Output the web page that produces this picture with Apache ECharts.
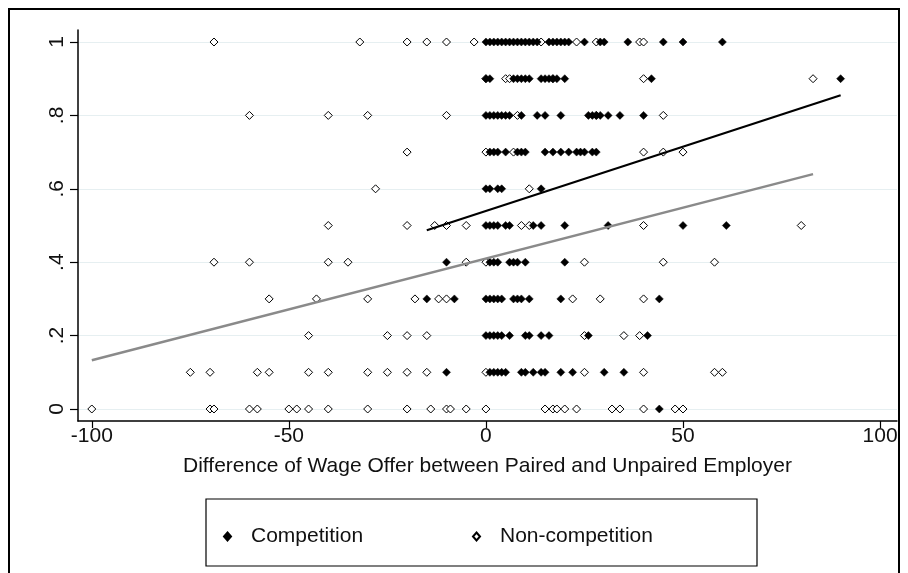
<!DOCTYPE html>
<html>
<head>
<meta charset="utf-8">
<script src="https://cdn.jsdelivr.net/npm/echarts@6/dist/echarts.min.js"></script>
<style>
  html, body { margin: 0; padding: 0; background: #ffffff; }
  #chart { width: 908px; height: 573px; }
</style>
</head>
<body>
<div id="chart"></div>
<script>
// Share of workers choosing the paired employer, by wage-offer difference
const yLevels = [0, 0.1, 0.2, 0.3, 0.4, 0.5, 0.6, 0.7, 0.8, 0.9, 1];

// wage-offer differences of the competition treatment, one list per outcome level
const competitionX = [
  [44],
  [-10, 1, 2, 3, 4, 5, 9, 10, 12, 14, 15, 19, 22, 30, 35],
  [0, 1, 2, 3, 4, 6, 10, 11, 14, 16, 26, 41],
  [-15, -8, 0, 1, 2, 3, 4, 7, 8, 9, 11, 19, 44],
  [-10, 1, 2, 3, 6, 7, 8, 10, 20],
  [0, 1, 2, 3, 5, 6, 12, 14, 20, 31, 50, 61],
  [0, 1, 3, 4, 14],
  [1, 2, 3, 5, 8, 9, 10, 15, 17, 19, 21, 23, 24, 25, 27, 28],
  [0, 1, 2, 3, 4, 5, 6, 9, 13, 15, 19, 26, 27, 28, 29, 31, 34, 40],
  [0, 1, 7, 8, 9, 10, 11, 14, 15, 16, 17, 18, 20, 42, 90],
  [0, 1, 2, 3, 4, 5, 6, 7, 8, 9, 10, 11, 12, 13, 16, 17, 18, 19, 20, 21, 25, 29, 30, 36, 45, 50, 60]
];

// wage-offer differences of the non-competition treatment, one list per outcome level
const nonCompetitionX = [
  [-100, -70, -69, -60, -58, -50, -48, -45, -40, -30, -20, -14, -10, -9, -5, 0, 15, 17, 18, 20, 23, 32, 34, 40, 48, 50],
  [-75, -70, -58, -55, -45, -40, -30, -25, -20, -15, 0, 25, 40, 58, 60],
  [-45, -25, -20, -15, 25, 35, 39],
  [-55, -43, -30, -18, -12, -10, 22, 29, 40],
  [-69, -60, -40, -35, -5, 0, 25, 45, 58],
  [-40, -20, -13, -10, -5, 9, 11, 40, 80],
  [-28, 11],
  [-20, 0, 7, 40, 45, 50],
  [-60, -40, -30, -10, 8, 28, 45],
  [0, 5, 6, 17, 40, 83],
  [-69, -32, -20, -15, -10, -3, 14, 23, 28, 39, 40]
];

// fitted-line end points
const competitionFit = [[-15, 0.487], [90, 0.855]];
const nonCompetitionFit = [[-100, 0.133], [83, 0.640]];

// axis ticks
const xTicks = [-100, -50, 0, 50, 100];
const yTicks = [0, 0.2, 0.4, 0.6, 0.8, 1];

function toPoints(rows) {
  const pts = [];
  rows.forEach((xs, i) => xs.forEach(x => pts.push([x, yLevels[i]])));
  return pts;
}

function yLabel(v) {
  if (v === 0) return '0';
  if (v === 1) return '1';
  return '.' + Math.round(v * 10);
}

const FONT = '"Liberation Sans", Arial, sans-serif';
const TXT = '#111111';
const FS = 21;

const chart = echarts.init(document.getElementById('chart'), null, { renderer: 'canvas' });

const legendText = { color: TXT, fontSize: FS, fontFamily: FONT, padding: [0, 0, 0, 15] };

chart.setOption({
  animation: false,
  backgroundColor: '#ffffff',
  textStyle: { fontFamily: FONT },
  grid: { left: 78, right: 11, top: 30, bottom: 152, containLabel: false },
  xAxis: {
    type: 'value',
    min: -103.5,
    max: 104.3,
    name: 'Difference of Wage Offer between Paired and Unpaired Employer',
    nameLocation: 'middle',
    nameGap: 35,
    nameTextStyle: { color: TXT, fontSize: FS, fontFamily: FONT, verticalAlign: 'top' },
    axisLine: { show: true, onZero: false, lineStyle: { color: '#000000', width: 1.5 } },
    axisTick: { show: true, length: 7, customValues: xTicks, lineStyle: { color: '#000000', width: 1.2 } },
    axisLabel: { customValues: xTicks, color: TXT, fontSize: FS, margin: 5, fontFamily: FONT },
    splitLine: { show: false }
  },
  yAxis: {
    type: 'value',
    min: -0.0327,
    max: 1.0327,
    axisLine: { show: true, onZero: false, lineStyle: { color: '#000000', width: 1.5 } },
    axisTick: { show: true, length: 8, customValues: yTicks, lineStyle: { color: '#000000', width: 1.2 } },
    axisLabel: { customValues: yTicks, formatter: yLabel, rotate: 90, color: TXT, fontSize: FS, margin: 10, fontFamily: FONT },
    splitLine: { show: true, lineStyle: { color: '#e6eff1', width: 1 } }
  },
  legend: [
    {
      data: ['Competition'],
      left: 218, top: 521,
      icon: 'diamond',
      itemWidth: 7, itemHeight: 8, itemGap: 0,
      textStyle: legendText
    },
    {
      data: ['Non-competition'],
      left: 467, top: 521,
      icon: 'diamond',
      itemWidth: 7, itemHeight: 8, itemGap: 0,
      textStyle: legendText
    }
  ],
  graphic: [
    {
      type: 'rect', silent: true,
      shape: { x: 9, y: 9, width: 890, height: 600 },
      style: { fill: 'none', stroke: '#000000', lineWidth: 2 }
    },
    {
      type: 'rect', silent: true,
      shape: { x: 206, y: 499, width: 551, height: 67 },
      style: { fill: 'none', stroke: '#000000', lineWidth: 1.2 }
    }
  ],
  series: [
    {
      name: 'Non-competition',
      type: 'scatter',
      symbol: 'diamond',
      symbolSize: [8, 8],
      itemStyle: { color: '#ffffff', borderColor: '#000000', borderWidth: 1, opacity: 1 },
      data: toPoints(nonCompetitionX),
      z: 2
    },
    {
      name: 'Competition',
      type: 'scatter',
      symbol: 'diamond',
      symbolSize: [8, 8],
      itemStyle: { color: '#000000', borderColor: '#000000', borderWidth: 0.5, opacity: 1 },
      data: toPoints(competitionX),
      z: 3
    },
    {
      name: 'Competition fit',
      type: 'line',
      data: competitionFit,
      showSymbol: false,
      symbol: 'none',
      lineStyle: { color: '#000000', width: 2.2 },
      z: 4
    },
    {
      name: 'Non-competition fit',
      type: 'line',
      data: nonCompetitionFit,
      showSymbol: false,
      symbol: 'none',
      lineStyle: { color: '#8a8a8a', width: 2.5 },
      z: 4
    }
  ]
});
</script>
</body>
</html>
